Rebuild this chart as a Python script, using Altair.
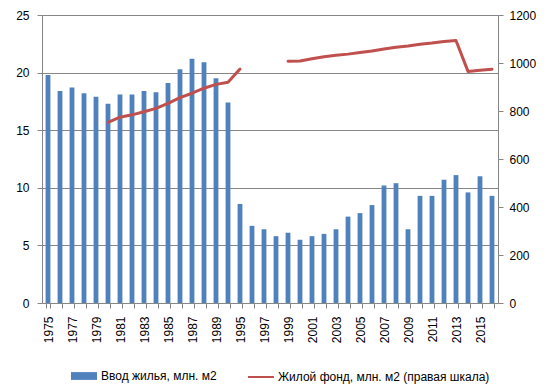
import altair as alt
import pandas as pd

years = [str(y) for y in list(range(1975, 1991)) + list(range(1995, 2017))]
housing_input = [19.8, 18.4, 18.7, 18.2, 17.9, 17.3, 18.1, 18.1, 18.4, 18.3,
                 19.1, 20.3, 21.2, 20.9, 19.5, 17.4,
                 8.6, 6.7, 6.4, 5.8, 6.1, 5.5, 5.8, 6.0, 6.4, 7.5, 7.8, 8.5,
                 10.2, 10.4, 6.4, 9.3, 9.3, 10.7, 11.1, 9.6, 11.0, 9.3]

line_years_1 = [str(y) for y in range(1980, 1991)] + ["1995"]
stock_1 = [753, 774, 784, 797, 811, 832, 856, 874, 895, 911, 920, 975]
line_years_2 = [str(y) for y in range(1999, 2017)]
stock_2 = [1007, 1008, 1018, 1026, 1032, 1037, 1044, 1050, 1058, 1066,
           1071, 1078, 1083, 1090, 1094, 965, 970, 974]

bar_name = "Ввод жилья, млн. м2"
line_name = "Жилой фонд, млн. м2 (правая шкала)"

bars_df = pd.DataFrame({"year": years, "value": housing_input, "series": bar_name})
line_df = pd.DataFrame({
    "year": line_years_1 + line_years_2,
    "stock": stock_1 + stock_2,
    "seg": [1] * len(line_years_1) + [2] * len(line_years_2),
    "series": line_name,
})

FONT = "Liberation Sans"
GRID = "#868686"

x_enc = alt.X(
    "year:N", sort=years, title=None,
    scale=alt.Scale(paddingInner=0.6, paddingOuter=0.3),
    axis=alt.Axis(labelAngle=270, labelAlign="right", labelBaseline="middle",
                  labelExpr="toNumber(datum.value) % 2 == 1 ? datum.label : ''",
                  tickBand="extent", tickSize=5, tickColor=GRID, domainColor=GRID,
                  labelFontSize=12, labelPadding=8, labelColor="#000000"),
)

bars = alt.Chart(bars_df).mark_bar(color="#4F81BD").encode(
    x=x_enc,
    y=alt.Y("value:Q", title=None,
            scale=alt.Scale(domain=[0, 25], nice=False),
            axis=alt.Axis(values=[0, 5, 10, 15, 20, 25], grid=True, gridColor=GRID,
                          tickColor=GRID, domainColor=GRID, tickSize=5,
                          labelFontSize=12, labelColor="#000000", labelPadding=8)),
    color=alt.Color("series:N", scale=alt.Scale(domain=[bar_name], range=["#4F81BD"]),
                    legend=alt.Legend(title=None, orient="none", legendX=29, legendY=348,
                                      symbolType="M-1,-0.3H1V0.3H-1Z", symbolSize=676,
                                      labelFontSize=12, labelFont=FONT, labelColor="#000000",
                                      labelOffset=4, labelLimit=400,
                                      symbolStrokeWidth=0)),
)

line = alt.Chart(line_df).mark_line(strokeWidth=3, strokeJoin="round", strokeCap="round").encode(
    x=alt.X("year:N", sort=years),
    y=alt.Y("stock:Q", title=None,
            scale=alt.Scale(domain=[0, 1200], nice=False),
            axis=alt.Axis(orient="right", values=[0, 200, 400, 600, 800, 1000, 1200],
                          format="d", grid=False, tickColor=GRID, domainColor=GRID,
                          tickSize=5, labelFontSize=12, labelColor="#000000",
                          labelPadding=6)),
    detail="seg:N",
    stroke=alt.Stroke("series:N", scale=alt.Scale(domain=[line_name], range=["#C0504D"]),
                      legend=alt.Legend(title=None, orient="none", legendX=205, legendY=348,
                                        symbolType="stroke", symbolSize=676,
                                        symbolStrokeWidth=2, labelOffset=3, labelLimit=400,
                                        labelFontSize=12, labelFont=FONT,
                                        labelColor="#000000")),
)

chart = alt.layer(bars, line).resolve_scale(y="independent").properties(
    width=456, height=288,
    autosize=alt.AutoSizeParams(type="none"),
    padding={"left": 34, "top": 7, "right": 50, "bottom": 81},
).configure_view(stroke=None).configure(font=FONT).configure_axis(labelFont=FONT)

chart.save("out.html", embed_options={"renderer": "svg", "actions": False})
